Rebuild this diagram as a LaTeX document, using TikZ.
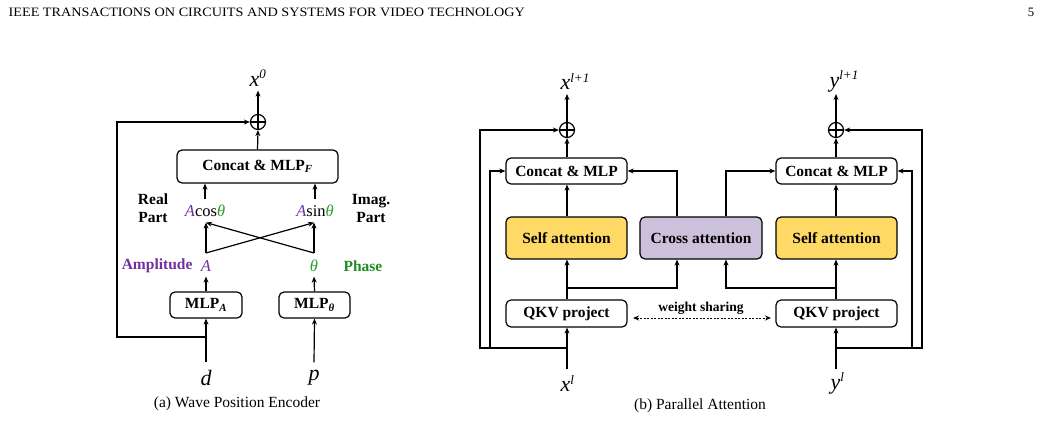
\documentclass[tikz,border=0pt]{standalone}
\usepackage{fontspec}
\setmainfont{Liberation Serif}
\usetikzlibrary{arrows.meta,calc}
\definecolor{selfyel}{HTML}{FFD966}
\definecolor{crosslav}{HTML}{CCC1DA}
\definecolor{amppurple}{HTML}{7030A0}
\definecolor{phgreen}{HTML}{228B22}
\definecolor{thgreen}{HTML}{2E9E2E}
\begin{document}
\begin{tikzpicture}[x=1pt,y=-1pt,
  line width=1.2pt,
  arr/.style={-{Stealth[length=6pt,width=5pt]}},
  dblarr/.style={{Stealth[length=6pt,width=5pt]}-{Stealth[length=6pt,width=5pt]}},
  blk/.style={draw,rounded corners=5pt,inner sep=0pt,font=\fontsize{15.5}{18}\selectfont\bfseries},
  plusc/.style={draw,circle,minimum size=15pt,inner sep=0pt},
  lbl/.style={inner sep=0pt,font=\fontsize{15.5}{18}\selectfont\bfseries},
  mth/.style={inner sep=0pt,font=\fontsize{16.5}{18}\selectfont},
  big/.style={inner sep=0pt,font=\fontsize{22}{24}\selectfont\itshape},
  captxt/.style={inner sep=0pt,font=\fontsize{15.5}{18}\selectfont}
]
\useasboundingbox (0,0) rectangle (1041,440);
% header
\node[anchor=west,inner sep=0pt,xscale=1.11,font=\fontsize{12.8}{14}\selectfont] (hdr) at (8,12.5) {IEEE TRANSACTIONS ON CIRCUITS AND SYSTEMS FOR VIDEO TECHNOLOGY};
\node[inner sep=0pt,font=\fontsize{12.8}{14}\selectfont] (pg) at (1031,12.5) {5};

% ===== (a) Wave Position Encoder =====
\node[blk,minimum width=161pt,minimum height=33pt] (concF) at (257.5,166.5) {Concat \& MLP\textsubscript{\textit{F}}};
\node[plusc] (o1) at (258,122) {};
\draw (o1.north)--(o1.south) (o1.west)--(o1.east);
\node[big,minimum height=24pt] (x0) at (258,78) {x\textsuperscript{\fontsize{13}{14}\selectfont 0}};
\node[mth,minimum height=22pt] (cos) at (205,211) {\textcolor{amppurple}{\textit{A}}cos\textcolor{thgreen}{\textit{θ}}};
\node[mth,minimum height=22pt] (sin) at (315,211) {\textcolor{amppurple}{\textit{A}}sin\textcolor{thgreen}{\textit{θ}}};
\node[lbl,align=center] (real) at (153,208) {Real\\Part};
\node[lbl,align=center] (imag) at (371,208) {Imag.\\Part};
\node[mth,minimum height=20pt] (A) at (206,266) {\textcolor{amppurple}{\textit{A}}};
\node[mth,minimum height=20pt] (th) at (314,266) {\textcolor{thgreen}{\textit{θ}}};
\node[lbl,anchor=east,text=amppurple] (ampl) at (193,266) {Amplitude};
\node[lbl,text=phgreen] (phase) at (363,266) {Phase};
\node[blk,minimum width=72pt,minimum height=26pt] (mlpA) at (206,305) {MLP\textsubscript{\textit{A}}};
\node[blk,minimum width=71pt,minimum height=26pt] (mlpT) at (314.5,305) {MLP\textsubscript{\textit{θ}}};
\node[big,minimum height=30pt] (d) at (206,378) {d};
\node[big,minimum height=30pt] (p) at (314,378) {p};
\node[captxt] (capa) at (237,404) {(a) Wave Position Encoder};

\coordinate (cl) at (206,253);
\coordinate (cr) at (314,253);
\coordinate (fbA) at (206,337);
\coordinate (fbL) at (117,337);

\draw[arr] (concF.north) -- (o1.south);
\draw[arr] (o1.north) -- (x0.south);
\draw[arr] (cos.north) -- (cos.north |- concF.south);
\draw[arr] (sin.north) -- (sin.north |- concF.south);
\draw[arr] (cl) -- (cl |- cos.south);
\draw[arr] (cr) -- (cr |- sin.south);
\draw[arr] (cl) -- (cr |- sin.south);
\draw[arr] (cr) -- (cl |- cos.south);
\draw[arr] (mlpA.north) -- (A.south);
\draw[arr] (mlpT.north) -- (th.south);
\draw[arr] (d.north) -- (mlpA.south);
\draw[arr] (p.north) -- (mlpT.south);
\draw[arr] (fbA) -- (fbL) |- (o1.west);

% ===== (b) Parallel Attention =====
\node[plusc] (o2) at (567,130) {};
\draw (o2.north)--(o2.south) (o2.west)--(o2.east);
\node[plusc] (o3) at (836,130) {};
\draw (o3.north)--(o3.south) (o3.west)--(o3.east);
\node[big,minimum height=24pt,anchor=south west] (xn) at (560,94) {x\textsuperscript{\fontsize{13}{14}\selectfont l+1}};
\node[big,minimum height=24pt,anchor=south west] (yn) at (829,94) {y\textsuperscript{\fontsize{13}{14}\selectfont l+1}};
\node[blk,minimum width=121pt,minimum height=26pt] (concL) at (566.5,171) {Concat \& MLP};
\node[blk,minimum width=121pt,minimum height=26pt] (concR) at (836.5,171) {Concat \& MLP};
\node[blk,minimum width=121pt,minimum height=42pt,fill=selfyel] (selfL) at (566.5,238) {Self attention};
\node[blk,minimum width=122pt,minimum height=42pt,fill=crosslav] (cross) at (701,238) {Cross attention};
\node[blk,minimum width=121pt,minimum height=42pt,fill=selfyel] (selfR) at (836.5,238) {Self attention};
\node[blk,minimum width=121pt,minimum height=27pt] (qkvL) at (566.5,313.5) {QKV project};
\node[blk,minimum width=121pt,minimum height=27pt] (qkvR) at (836.5,313.5) {QKV project};
\node[big,minimum height=28pt,anchor=north west] (xl) at (560,369) {x\textsuperscript{\fontsize{13}{14}\selectfont l}};
\node[big,minimum height=28pt,anchor=north west] (yl) at (830,369) {y\textsuperscript{\fontsize{13}{14}\selectfont l}};
\node[inner sep=0pt,font=\fontsize{13.5}{15}\selectfont\bfseries] (ws) at (701,308) {weight sharing};
\node[captxt] (capb) at (700,406) {(b) Parallel Attention};

\coordinate (ws1) at (633,318);
\coordinate (ws2) at (771,318);
\draw[dblarr,line width=1pt,dash pattern=on 2pt off 1.5pt] (ws1) -- (ws2);

\draw[arr] (o2.north) -- (567,94);
\draw[arr] (o3.north) -- (836,94);
\draw[arr] (concL.north -| o2) -- (o2.south);
\draw[arr] (concR.north -| o3) -- (o3.south);
\draw[arr] (selfL.north -| o2) -- (concL.south -| o2);
\draw[arr] (selfR.north -| o3) -- (concR.south -| o3);
\draw[arr] (qkvL.north -| o2) -- (selfL.south -| o2);
\draw[arr] (qkvR.north -| o3) -- (selfR.south -| o3);
\draw[arr] (567,369) -- (qkvL.south -| o2);
\draw[arr] (836,369) -- (qkvR.south -| o3);

\coordinate (bL) at (567,288);
\coordinate (bR) at (836,288);
\draw[arr] (bL) -| ([xshift=-24pt]cross.south);
\draw[arr] (bR) -| ([xshift=25pt]cross.south);
\draw[arr] ([xshift=-24pt]cross.north) |- (concL.east);
\draw[arr] ([xshift=25pt]cross.north) |- (concR.west);

\coordinate (rL) at (567,348);
\coordinate (rR) at (836,348);
\draw[arr] (rL) -- (480,348) |- (o2.west);
\draw[arr] (490,348) |- (concL.west);
\draw[arr] (rR) -- (922,348) |- (o3.east);
\draw[arr] (912,348) |- (concR.east);
\end{tikzpicture}
\end{document}
